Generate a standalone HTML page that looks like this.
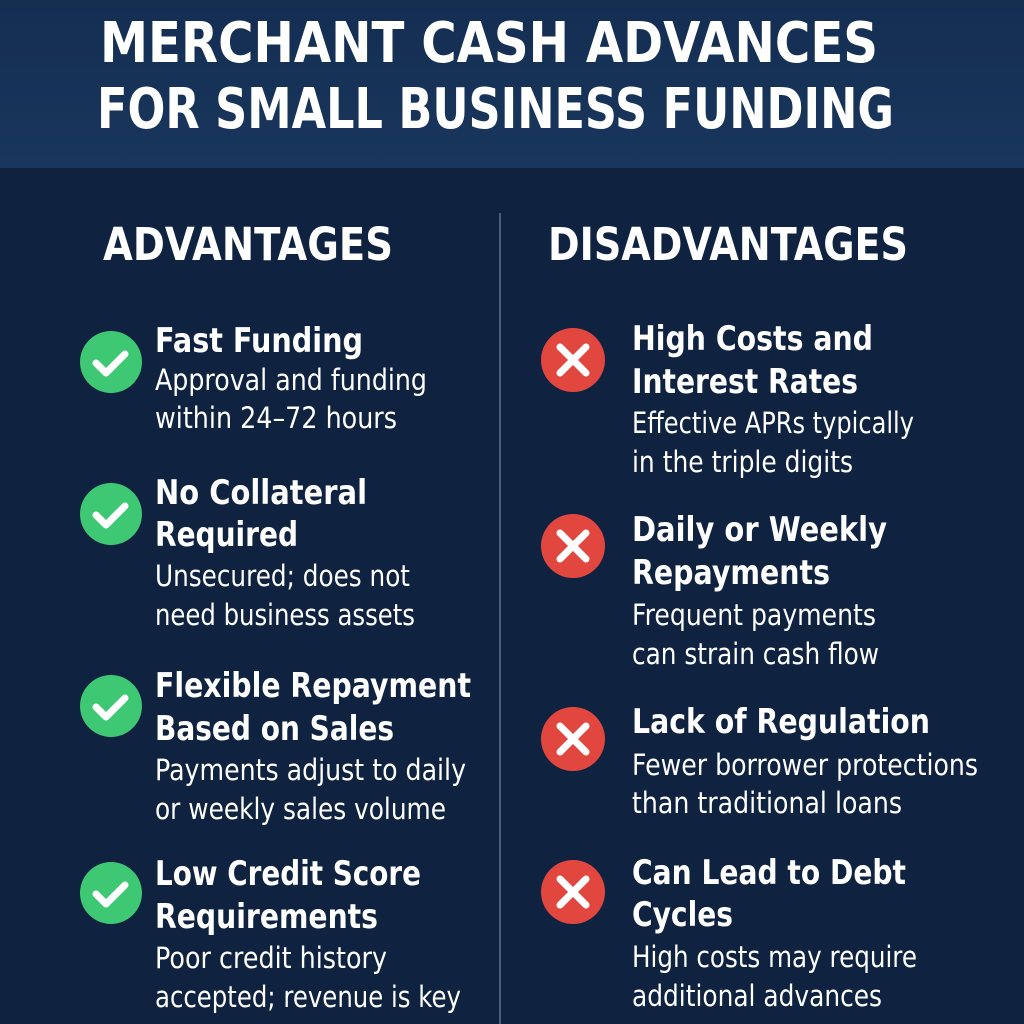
<!DOCTYPE html>
<html><head><meta charset="utf-8"><style>
html,body{margin:0;padding:0;background:#0f2240;}
svg{display:block}
text{font-family:"DejaVu Sans","Liberation Sans",sans-serif;fill:#fff}
.t{font-weight:bold;font-size:34px}
.d{font-size:29px}
</style></head><body>
<svg width="1024" height="1024" viewBox="0 0 1024 1024" xmlns="http://www.w3.org/2000/svg">
<defs>
<linearGradient id="hg" x1="0" y1="0" x2="0" y2="1"><stop offset="0" stop-color="#142e52"/><stop offset="1" stop-color="#19365c"/></linearGradient>
<g id="ck"><circle r="31" fill="#3ec873"/><path d="M-15,1 L-5,11 L14,-8" stroke="#fff" stroke-width="7" fill="none" stroke-linecap="round" stroke-linejoin="round"/></g>
<g id="xx"><circle r="32" fill="#e2473f"/><path d="M-13,-13 L13,13 M13,-13 L-13,13" stroke="#fff" stroke-width="7" stroke-linecap="round"/></g>
</defs>
<rect width="1024" height="1024" fill="#0f2240"/>
<rect width="1024" height="168" fill="url(#hg)"/>
<line x1="500" y1="213" x2="500" y2="1024" stroke="#4a5f80" stroke-width="2"/>
<text x="100" y="62" font-weight="bold" font-size="56" textLength="778" lengthAdjust="spacingAndGlyphs">MERCHANT CASH ADVANCES</text>
<text x="97" y="128" font-weight="bold" font-size="56" textLength="797" lengthAdjust="spacingAndGlyphs">FOR SMALL BUSINESS FUNDING</text>
<text x="103" y="260" font-weight="bold" font-size="45" textLength="290" lengthAdjust="spacingAndGlyphs">ADVANTAGES</text>
<text x="548" y="260" font-weight="bold" font-size="45" textLength="360" lengthAdjust="spacingAndGlyphs">DISADVANTAGES</text>

<use href="#ck" x="111" y="362"/>
<text class="t" x="155" y="352" textLength="208" lengthAdjust="spacingAndGlyphs">Fast Funding</text>
<text class="d" x="155" y="390" textLength="272" lengthAdjust="spacingAndGlyphs">Approval and funding</text>
<text class="d" x="155" y="428" textLength="242" lengthAdjust="spacingAndGlyphs">within 24–72 hours</text>

<use href="#ck" x="111" y="514"/>
<text class="t" x="155" y="504" textLength="212" lengthAdjust="spacingAndGlyphs">No Collateral</text>
<text class="t" x="155" y="546" textLength="143" lengthAdjust="spacingAndGlyphs">Required</text>
<text class="d" x="155" y="586" textLength="255" lengthAdjust="spacingAndGlyphs">Unsecured; does not</text>
<text class="d" x="155" y="625" textLength="260" lengthAdjust="spacingAndGlyphs">need business assets</text>

<use href="#ck" x="111" y="706"/>
<text class="t" x="155" y="697" textLength="316" lengthAdjust="spacingAndGlyphs">Flexible Repayment</text>
<text class="t" x="155" y="740" textLength="239" lengthAdjust="spacingAndGlyphs">Based on Sales</text>
<text class="d" x="155" y="780" textLength="311" lengthAdjust="spacingAndGlyphs">Payments adjust to daily</text>
<text class="d" x="155" y="819" textLength="291" lengthAdjust="spacingAndGlyphs">or weekly sales volume</text>

<use href="#ck" x="111" y="893"/>
<text class="t" x="155" y="885" textLength="266" lengthAdjust="spacingAndGlyphs">Low Credit Score</text>
<text class="t" x="155" y="928" textLength="223" lengthAdjust="spacingAndGlyphs">Requirements</text>
<text class="d" x="155" y="968" textLength="232" lengthAdjust="spacingAndGlyphs">Poor credit history</text>
<text class="d" x="155" y="1007" textLength="306" lengthAdjust="spacingAndGlyphs">accepted; revenue is key</text>

<use href="#xx" x="573" y="360"/>
<text class="t" x="632" y="350" textLength="241" lengthAdjust="spacingAndGlyphs">High Costs and</text>
<text class="t" x="632" y="393" textLength="226" lengthAdjust="spacingAndGlyphs">Interest Rates</text>
<text class="d" x="632" y="433" textLength="282" lengthAdjust="spacingAndGlyphs">Effective APRs typically</text>
<text class="d" x="632" y="472" textLength="221" lengthAdjust="spacingAndGlyphs">in the triple digits</text>

<use href="#xx" x="573" y="546"/>
<text class="t" x="632" y="541" textLength="255" lengthAdjust="spacingAndGlyphs">Daily or Weekly</text>
<text class="t" x="632" y="584" textLength="198" lengthAdjust="spacingAndGlyphs">Repayments</text>
<text class="d" x="632" y="625" textLength="244" lengthAdjust="spacingAndGlyphs">Frequent payments</text>
<text class="d" x="632" y="664" textLength="247" lengthAdjust="spacingAndGlyphs">can strain cash flow</text>

<use href="#xx" x="573" y="739"/>
<text class="t" x="632" y="733" textLength="298" lengthAdjust="spacingAndGlyphs">Lack of Regulation</text>
<text class="d" x="632" y="775" textLength="346" lengthAdjust="spacingAndGlyphs">Fewer borrower protections</text>
<text class="d" x="632" y="813" textLength="270" lengthAdjust="spacingAndGlyphs">than traditional loans</text>

<use href="#xx" x="573" y="892"/>
<text class="t" x="632" y="884" textLength="274" lengthAdjust="spacingAndGlyphs">Can Lead to Debt</text>
<text class="t" x="632" y="926" textLength="101" lengthAdjust="spacingAndGlyphs">Cycles</text>
<text class="d" x="632" y="967" textLength="285" lengthAdjust="spacingAndGlyphs">High costs may require</text>
<text class="d" x="632" y="1006" textLength="250" lengthAdjust="spacingAndGlyphs">additional advances</text>
</svg>
</body></html>
